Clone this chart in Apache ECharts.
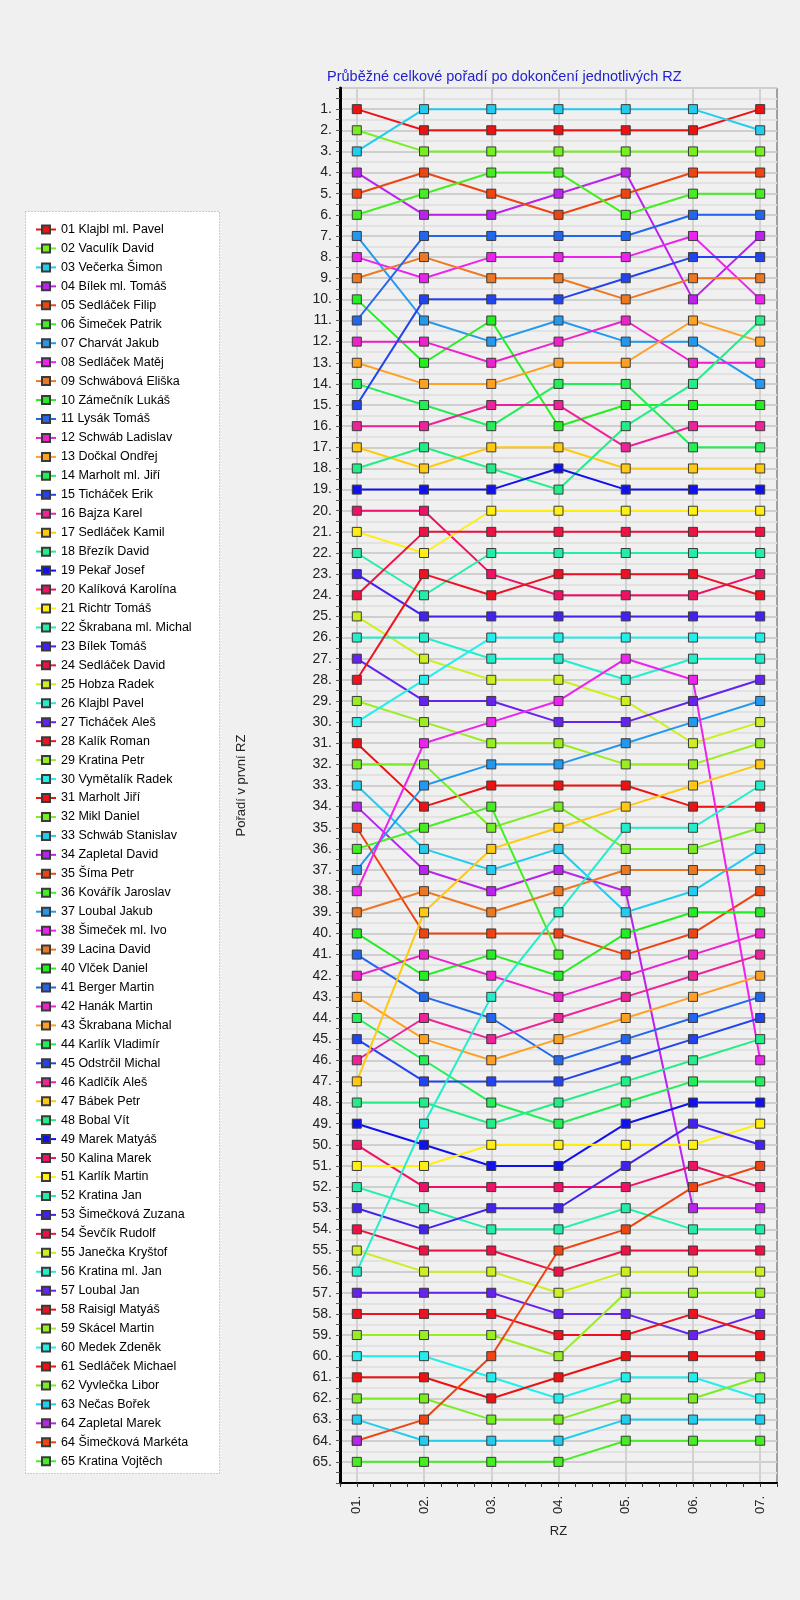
<!DOCTYPE html>
<html>
<head>
<meta charset="utf-8">
<title>Průběžné celkové pořadí</title>
<script src="https://cdn.jsdelivr.net/npm/echarts@6/dist/echarts.min.js"></script>
<style>
  html, body { margin: 0; padding: 0; background: #f0f0f0; }
  #chart { width: 800px; height: 1600px; }
</style>
</head>
<body>
<div id="chart"></div>
<script>
// jezdci v pořadí po první RZ
var drivers = [
  '01 Klajbl ml. Pavel', '02 Vaculík David', '03 Večerka Šimon', '04 Bílek ml. Tomáš',
  '05 Sedláček Filip', '06 Šimeček Patrik', '07 Charvát Jakub', '08 Sedláček Matěj',
  '09 Schwábová Eliška', '10 Zámečník Lukáš', '11 Lysák Tomáš', '12 Schwáb Ladislav',
  '13 Dočkal Ondřej', '14 Marholt ml. Jiří', '15 Ticháček Erik', '16 Bajza Karel',
  '17 Sedláček Kamil', '18 Březík David', '19 Pekař Josef', '20 Kalíková Karolína',
  '21 Richtr Tomáš', '22 Škrabana ml. Michal', '23 Bílek Tomáš', '24 Sedláček David',
  '25 Hobza Radek', '26 Klajbl Pavel', '27 Ticháček Aleš', '28 Kalík Roman',
  '29 Kratina Petr', '30 Vymětalík Radek', '31 Marholt Jiří', '32 Mikl Daniel',
  '33 Schwáb Stanislav', '34 Zapletal David', '35 Šíma Petr', '36 Kovářík Jaroslav',
  '37 Loubal Jakub', '38 Šimeček ml. Ivo', '39 Lacina David', '40 Vlček Daniel',
  '41 Berger Martin', '42 Hanák Martin', '43 Škrabana Michal', '44 Karlík Vladimír',
  '45 Odstrčil Michal', '46 Kadlčík Aleš', '47 Bábek Petr', '48 Bobal Vít',
  '49 Marek Matyáš', '50 Kalina Marek', '51 Karlík Martin', '52 Kratina Jan',
  '53 Šimečková Zuzana', '54 Ševčík Rudolf', '55 Janečka Kryštof', '56 Kratina ml. Jan',
  '57 Loubal Jan', '58 Raisigl Matyáš', '59 Skácel Martin', '60 Medek Zdeněk',
  '61 Sedláček Michael', '62 Vyvlečka Libor', '63 Nečas Bořek', '64 Zapletal Marek',
  '64 Šimečková Markéta', '65 Kratina Vojtěch'
];

var stages = ['01.', '02.', '03.', '04.', '05.', '06.', '07.'];

// pořadí po jednotlivých RZ (null = nedokončil)
var rz1 = [1, 2, 3, 4, 5, 6, 7, 8, 9, 10, 11, 12, 13, 14, 15, 16, 17, 18, 19, 20,
  21, 22, 23, 24, 25, 26, 27, 28, 29, 30, 31, 32, 33, 34, 35, 36, 37, 38, 39, 40,
  41, 42, 43, 44, 45, 46, 47, 48, 49, 50, 51, 52, 53, 54, 55, 56, 57, 58, 59, 60,
  61, 62, 63, 64, 64, 65];
var rz2 = [2, 3, 1, 6, 4, 5, 11, 9, 8, 13, 7, 12, 14, 15, 10, 16, 18, 17, 19, 20,
  22, 24, 25, 21, 27, 26, 29, 23, 30, 28, 34, 32, 36, 37, 40, 35, 33, 31, 38, 42,
  43, 41, 45, 46, 47, 44, 39, 48, 50, 52, 51, 53, 54, 55, 56, 49, 57, 58, 59, 60,
  61, 62, 64, null, 63, 65];
var rz3 = [2, 3, 1, 6, 5, 4, 12, 8, 9, 11, 7, 13, 14, 16, 10, 15, 17, 18, 19, 23,
  20, 22, 25, 21, 28, 27, 29, 24, 31, 26, 33, 35, 37, 38, 40, 34, 32, 30, 39, 41,
  44, 42, 46, 48, 47, 45, 36, 49, 51, 52, 50, 54, 53, 55, 56, 43, 57, 58, 59, 61,
  62, 63, 64, null, 60, 65];
var rz4 = [2, 3, 1, 5, 6, 4, 11, 8, 9, 16, 7, 12, 13, 14, 10, 15, 17, 19, 18, 24,
  20, 22, 25, 21, 28, 27, 30, 23, 31, 26, 33, 34, 36, 37, 40, 41, 32, 29, 38, 42,
  46, 43, 45, 49, 47, 44, 35, 48, 51, 52, 50, 54, 53, 56, 57, 39, 58, 59, 60, 62,
  61, 63, 64, null, 55, 65];
var rz5 = [2, 3, 1, 4, 5, 6, 12, 8, 10, 15, 7, 11, 13, 14, 9, 17, 18, 16, 19, 24,
  20, 22, 25, 21, 29, 28, 30, 23, 32, 26, 33, 36, 39, 38, 41, null, 31, 27, 37, 40,
  45, 42, 44, 48, 46, 43, 34, 47, 49, 52, 50, 53, 51, 55, 56, 35, 58, 59, 57, 61,
  60, 62, 63, null, 54, 64];
var rz6 = [2, 3, 1, 10, 4, 5, 12, 7, 9, 15, 6, 13, 11, 17, 8, 16, 18, 14, 19, 24,
  20, 22, 25, 21, 31, 27, 29, 23, 32, 26, 34, 36, 38, 53, 40, null, 30, 28, 37, 39,
  44, 41, 43, 47, 45, 42, 33, 46, 48, 51, 50, 54, 49, 55, 56, 35, 59, 58, 57, 61,
  60, 62, 63, null, 52, 64];
var rz7 = [1, 3, 2, 7, 4, 5, 14, 10, 9, 15, 6, 13, 12, 17, 8, 16, 18, 11, 19, 23,
  20, 22, 25, 21, 30, 27, 28, 24, 31, 26, 34, 35, 36, 53, 38, null, 29, 46, 37, 39,
  43, 40, 42, 47, 44, 41, 32, 45, 48, 52, 49, 54, 50, 55, 56, 33, 58, 59, 57, 62,
  60, 61, 63, null, 51, 64];

var palette = [
  '#ee1111', '#77ee22', '#22ccee', '#bb22ee', '#ee4411', '#44ee22', '#2299ee', '#ee22ee',
  '#ee7722', '#22ee22', '#2266ee', '#ee22cc', '#ffa022', '#22ee55', '#2244ee', '#ee2299',
  '#ffc811', '#22ee88', '#1111ee', '#ee1166', '#ffee11', '#22eeaa', '#4422ee', '#ee1144',
  '#ccee22', '#22eecc', '#6622ee', '#ee1122', '#99ee22', '#22eeee'
];

var FONT = 'Liberation Sans, Arial, sans-serif';
var chart = echarts.init(document.getElementById('chart'));

var rzAll = [rz1, rz2, rz3, rz4, rz5, rz6, rz7];
var series = drivers.map(function (name, i) {
  var pts = [];
  rzAll.forEach(function (col, s) {
    if (col[i] != null) pts.push([s + 1, col[i]]);
  });
  var c = palette[i % palette.length];
  return {
    name: name,
    type: 'line',
    data: pts,
    symbol: 'rect',
    symbolSize: 9,
    z: i === 63 ? 4 : 2,
    lineStyle: { color: c, width: 2 },
    itemStyle: { color: c, borderColor: '#3a3a3a', borderWidth: 1 },
    emphasis: { disabled: true }
  };
});

var option = {
  backgroundColor: '#f0f0f0',
  animation: false,
  color: palette,
  title: {
    text: 'Průběžné celkové pořadí po dokončení jednotlivých RZ',
    left: 322,
    top: 64,
    textStyle: { color: '#2222cc', fontSize: 14.5, fontWeight: 'normal', fontFamily: FONT }
  },
  graphic: [{
    type: 'rect',
    left: 25, top: 211,
    shape: { width: 194, height: 1262 },
    style: { fill: '#ffffff', stroke: '#a0a0a0', lineWidth: 1, lineDash: [1, 2] },
    z: 0
  }],
  legend: {
    orient: 'vertical',
    left: 30,
    top: 218,
    height: 1300,
    itemWidth: 20,
    itemHeight: 10,
    itemGap: 5.95,
    selectedMode: false,
    data: drivers,
    textStyle: { color: '#000', fontSize: 12.5, lineHeight: 13, fontFamily: FONT },
    z: 5
  },
  grid: {
    left: 340, right: 23, top: 88, bottom: 117,
    show: true,
    backgroundColor: '#f0f0f0',
    borderColor: '#505050',
    borderWidth: 1
  },
  xAxis: {
    type: 'value',
    min: 0.75, max: 7.25, interval: 0.25,
    name: 'RZ',
    nameLocation: 'middle',
    nameGap: 42,
    nameTextStyle: { color: '#222', fontSize: 13, fontFamily: FONT },
    axisLine: { onZero: false, lineStyle: { color: '#000', width: 2 } },
    axisTick: { show: true, length: 4, lineStyle: { color: '#333' } },
    axisLabel: {
      rotate: 90,
      margin: 13,
      color: '#222',
      fontSize: 13,
      fontFamily: FONT,
      formatter: function (v) {
        return Number.isInteger(v) && v >= 1 && v <= 7 ? stages[v - 1] : '';
      }
    },
    splitLine: {
      show: true,
      lineStyle: { color: ['transparent', '#d2d2d2', 'transparent', 'transparent'], width: 2 }
    }
  },
  yAxis: {
    type: 'value',
    inverse: true,
    min: 0, max: 66, interval: 0.5,
    name: 'Pořadí v první RZ',
    nameLocation: 'middle',
    nameGap: 92,
    nameRotate: 90,
    nameTextStyle: { color: '#222', fontSize: 13, fontFamily: FONT },
    axisLine: { onZero: false, lineStyle: { color: '#000', width: 3 } },
    axisTick: { show: true, length: 4, lineStyle: { color: '#555' } },
    axisLabel: {
      margin: 8,
      color: '#222',
      fontSize: 14,
      fontFamily: FONT,
      formatter: function (v) {
        return Number.isInteger(v) && v >= 1 && v <= 65 ? v + '.' : '';
      }
    },
    splitLine: {
      show: true,
      lineStyle: { color: ['#cfcfcf', '#e2e2e2'], width: 2 }
    }
  },
  series: series
};

chart.setOption(option);
</script>
</body>
</html>
